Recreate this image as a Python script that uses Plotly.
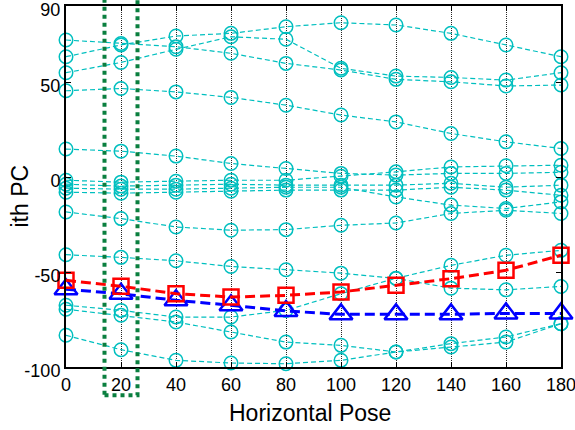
import plotly.graph_objects as go

# ---- data ----
poses = [0, 20, 40, 60, 80, 100, 120, 140, 160, 180]

pc_a = [54.9, 60.3, 67.2, 73.8, 72.5, 57.2, 53.1, 52.4, 51.0, 54.9]
pc_b = [63.3, 69.5, 74.2, 75.6, 79.1, 81.2, 80.0, 75.6, 69.5, 63.3]
pc_c = [72.1, 70.3, 68.6, 65.1, 59.8, 56.3, 51.4, 50.1, 47.9, 48.4]
pc_d = [45.4, 46.6, 44.8, 41.9, 37.8, 32.6, 29.0, 22.9, 18.5, 15.0]
pc_e = [14.7, 13.6, 11.0, 7.1, 4.5, 1.9, 1.0, 1.9, 1.9, 2.5]
pc_z1 = [-1.7, -2.7, -2.2, -1.7, -1.7, 0.4, 2.7, 5.3, 5.9, 6.2]
pc_z2 = [-3.8, -4.8, -4.3, -3.8, -4.3, -4.3, -4.3, -3.3, -5.4, -4.3]
pc_z3 = [-5.9, -6.4, -6.4, -5.9, -5.4, -5.4, -10.5, -14.8, -16.6, -13.1]
pc_z4 = [-8.0, -8.5, -8.0, -7.5, -6.9, -6.9, -6.9, -5.4, -6.9, -9.6]
pc_u = [-18.4, -21.9, -26.3, -28.0, -27.7, -25.4, -24.2, -19.2, -17.5, -19.2]
pc_p = [-40.9, -42.3, -44.1, -47.1, -48.8, -50.6, -53.4, -58.5, -59.4, -57.6]
pc_q = [-67.5, -70.2, -73.7, -73.7, -70.2, -61.4, -53.3, -46.5, -41.2, -38.6]
pc_r = [-69.6, -72.8, -76.3, -81.6, -86.9, -88.6, -92.1, -89.5, -86.9, -77.2]
pc_s = [-83.3, -90.9, -96.5, -97.9, -98.3, -96.5, -92.1, -87.7, -84.2, -77.2]

red_series = [-54.4, -57.5, -61.4, -63.2, -62.3, -60.5, -57.0, -53.5, -49.1, -41.2]
blue_series = [-59.1, -61.5, -64.9, -67.5, -70.5, -72.3, -72.3, -72.3, -71.8, -71.8]

x_ticks = [0, 20, 40, 60, 80, 100, 120, 140, 160, 180]
y_ticks = [-100, -50, 0, 50, 90]
x_range = [0, 180]
y_range = [-100, 90]
highlight_pose = 20
highlight_halfwidth = 6

cyan_series = [pc_a, pc_b, pc_c, pc_d, pc_e, pc_z1, pc_z2, pc_z3, pc_z4,
               pc_u, pc_p, pc_q, pc_r, pc_s]

FONT = "Liberation Sans, Arial, sans-serif"
CYAN = "#00BFBF"

fig = go.Figure()
for ys in cyan_series:
    fig.add_trace(go.Scatter(
        x=poses, y=ys, mode="lines+markers", cliponaxis=False,
        line=dict(color=CYAN, width=1.2, dash="5px,3px"),
        marker=dict(symbol="circle-open", size=13.5, color=CYAN,
                    line=dict(color=CYAN, width=1.5)),
        showlegend=False, hoverinfo="skip"))

fig.add_trace(go.Scatter(
    x=poses, y=blue_series, mode="lines+markers", cliponaxis=False,
    line=dict(color="#0000FF", width=3, dash="10px,5px"),
    marker=dict(symbol="triangle-up-open", size=20, color="#0000FF",
                line=dict(color="#0000FF", width=2.5)),
    showlegend=False))
fig.add_trace(go.Scatter(
    x=poses, y=red_series, mode="lines+markers", cliponaxis=False,
    line=dict(color="#FF0000", width=3, dash="10px,5px"),
    marker=dict(symbol="square-open", size=15, color="#FF0000",
                line=dict(color="#FF0000", width=2.5)),
    showlegend=False))

span = x_range[1] - x_range[0]
fig.add_shape(type="rect", xref="paper", yref="paper",
              x0=(highlight_pose - highlight_halfwidth - x_range[0]) / span,
              x1=(highlight_pose + highlight_halfwidth - x_range[0]) / span,
              y0=-0.078, y1=1.1,
              line=dict(color="#0A7F3F", width=4, dash="dot"))

fig.add_annotation(text="Horizontal Pose", xref="paper", yref="paper",
                   x=0.492, y=-0.128, xanchor="center", yanchor="middle",
                   showarrow=False, font=dict(size=23, family=FONT, color="black"))
fig.add_annotation(text="ith PC", xref="paper", yref="paper",
                   x=-0.093, y=0.475, xanchor="center", yanchor="middle", textangle=-90,
                   showarrow=False, font=dict(size=23, family=FONT, color="black"))

fig.update_layout(
    width=575, height=430,
    margin=dict(l=66, r=14, t=6, b=63),
    paper_bgcolor="white", plot_bgcolor="white",
    font=dict(family=FONT, color="black"),
    hovermode=False,
    xaxis=dict(range=x_range, tickvals=x_ticks, ticktext=[str(v) for v in x_ticks],
               automargin=False, ticklabeloverflow="allow",
               showgrid=True, gridcolor="rgba(0,0,0,0.85)", griddash="1px,1px", gridwidth=1,
               showline=True, linecolor="black", linewidth=2, mirror="ticks",
               ticks="inside", ticklen=5, tickcolor="black", zeroline=False,
               tickfont=dict(size=18, family=FONT)),
    yaxis=dict(range=y_range, tickvals=y_ticks, ticktext=[str(v) for v in y_ticks],
               automargin=False, ticklabeloverflow="allow", ticklabelshift=4,
               showgrid=False, zeroline=False,
               showline=True, linecolor="black", linewidth=2, mirror="ticks",
               ticks="inside", ticklen=5, tickcolor="black",
               tickfont=dict(size=18, family=FONT)),
)

fig.write_html("out.html", config={"displayModeBar": False},
               post_script="document.body.style.margin='0px';document.body.style.overflow='hidden';")
